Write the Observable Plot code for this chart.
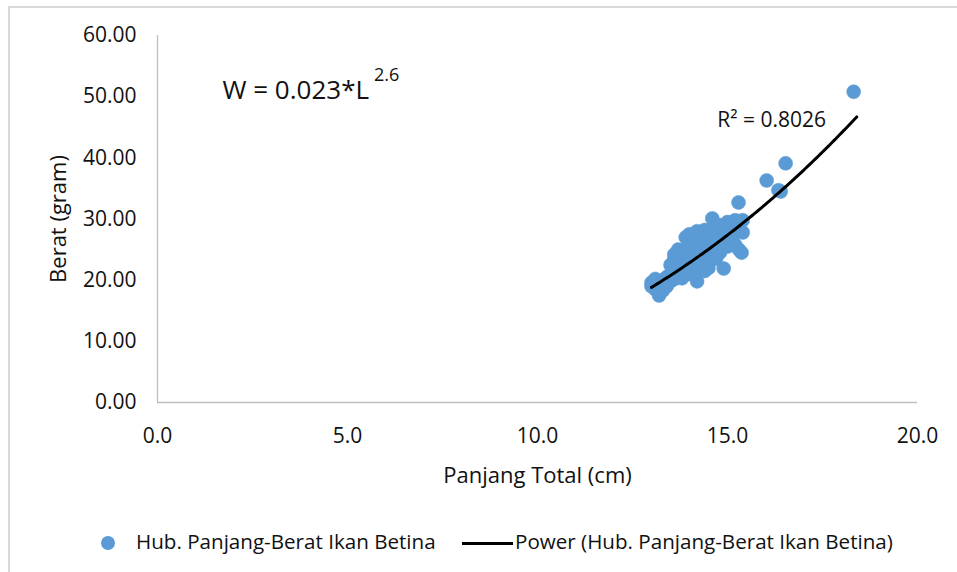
<!DOCTYPE html>
<html>
<head>
<meta charset="utf-8">
<script src="https://cdn.jsdelivr.net/npm/d3@7"></script>
<script src="https://cdn.jsdelivr.net/npm/@observablehq/plot@0.6"></script>
<style>
  body { margin: 0; background: #fff; font-family: "Open Sans", sans-serif; }
  #wrap { position: relative; width: 957px; height: 572px; overflow: hidden; }
  #frame { position: absolute; left: 8px; top: 6px; width: 960px; height: 580px; border: 2px solid #d9d9d9; box-sizing: border-box; }
  #chart { position: absolute; left: 0; top: 0; }
  #legend { position: absolute; left: 0; top: 527px; width: 957px; height: 30px; font-size: 20.6px; color: #111; white-space: nowrap; }
  #legend .dot { position: absolute; left: 101px; top: 9px; width: 14px; height: 14px; border-radius: 50%; background: #5b9bd5; }
  #legend .t1 { position: absolute; left: 136px; top: 0px; }
  #legend .ln { position: absolute; left: 462px; top: 15px; width: 51px; height: 3px; background: #000; }
  #legend .t2 { position: absolute; left: 515px; top: 0px; }
</style>
</head>
<body>
<div id="wrap">
  <div id="frame"></div>
  <div id="chart"></div>
  <div id="legend">
    <div class="dot"></div><span class="t1">Hub. Panjang-Berat Ikan Betina</span>
    <div class="ln"></div><span class="t2">Power (Hub. Panjang-Berat Ikan Betina)</span>
  </div>
</div>
<script>
// Panjang total (cm)
const panjang = [
  13.0,13.0,13.1,13.2,13.2,13.3,13.1,13.4,13.4,13.5,13.3,
  13.5,13.5,13.6,13.6,13.7,13.7,13.8,13.8,13.6,13.7,13.9,13.8,
  13.9,14.0,14.0,14.0,14.1,14.1,14.2,14.2,14.2,14.2,14.2,14.3,14.3,14.3,14.1,14.0,14.4,
  14.4,14.4,14.4,14.5,14.5,14.5,14.6,14.6,14.6,14.6,14.7,14.7,14.7,14.8,14.8,14.8,14.9,
  14.9,14.9,15.0,15.0,15.0,15.1,15.1,15.2,15.2,15.3,15.3,15.4,15.4,15.37,15.3,15.29,15.2,
  13.9,14.0,14.5,13.6,
  16.03,16.34,16.4,16.53,18.32
];
// Berat (gram)
const berat = [
  19.0,19.6,18.5,17.5,19.3,20.0,20.2,19.0,20.5,19.8,18.3,
  21.0,22.5,23.5,24.2,20.5,22.0,24.8,23.0,21.5,25.0,21.0,20.3,
  27.0,26.0,24.0,22.5,25.5,23.5,28.0,26.5,24.8,22.0,19.8,27.2,25.0,23.0,21.2,27.5,21.5,
  28.2,26.0,24.0,27.0,25.0,23.0,30.1,28.5,26.0,24.2,27.5,25.5,23.5,29.0,26.8,24.5,21.9,
  28.0,26.0,29.5,27.2,25.5,28.5,26.5,29.8,27.8,29.5,28.0,29.8,27.8,24.5,25.0,32.7,25.8,
  22.5,21.0,22.0,20.2,
  36.3,34.7,34.5,39.1,50.8
];
// Power trendline parameters W = a * L^b, over the observed length range
const fitA = 0.0230;
const fitB = 2.615;
const fitRange = [13.0, 18.4];
const xTicks = [0, 5, 10, 15, 20];
const yTicks = [0, 10, 20, 30, 40, 50, 60];

const pts = panjang.map((L, i) => ({L, W: berat[i]}));
const fit = d3.range(fitRange[0], fitRange[1] + 0.001, 0.05).map(L => ({L, W: fitA * Math.pow(L, fitB)}));

const plot = Plot.plot({
  width: 957,
  height: 500,
  marginLeft: 157,
  marginRight: 40,
  marginTop: 35,
  marginBottom: 98,
  style: {fontFamily: "Open Sans, sans-serif", fontSize: "20px", color: "#111", background: "transparent"},
  x: {domain: [0, 20]},
  y: {domain: [0, 60]},
  marks: [
    Plot.ruleX([0], {stroke: "#bfbfbf", strokeWidth: 1.3}),
    Plot.ruleY([0], {stroke: "#bfbfbf", strokeWidth: 1.3}),
    Plot.axisX({ticks: xTicks, tickFormat: d3.format(".1f"), tickSize: 0, tickPadding: 26, fontSize: 21,
      label: null}),
    Plot.axisY({ticks: yTicks, tickFormat: d3.format(".2f"), tickSize: 0, tickPadding: 21, fontSize: 21,
      label: null}),
    Plot.axisX({ticks: [], label: "Panjang Total (cm)", labelAnchor: "center", labelArrow: "none", labelOffset: 80, fontSize: 22}),
    Plot.axisY({ticks: [], label: "Berat (gram)", labelAnchor: "center", labelArrow: "none", labelOffset: 107, fontSize: 22}),
    Plot.dot(pts, {x: "L", y: "W", r: 7, fill: "#5b9bd5", stroke: "#5b9bd5", strokeWidth: 0.5}),
    Plot.line(fit, {x: "L", y: "W", stroke: "#000", strokeWidth: 3}),
    Plot.text(["R² = 0.8026"], {x: 16.16, y: 46.1, text: d => d, fontSize: 21, textAnchor: "middle", fill: "#111"}),
    Plot.text(["W = 0.023*L"], {x: 1.71, y: 51.0, text: d => d, fontSize: 26, textAnchor: "start", fill: "#111", className: "eqn"})
  ]
});
document.getElementById("chart").appendChild(plot);
// superscript exponent on the equation
const eq = plot.querySelector(".eqn text");
if (eq) {
  d3.select(eq).append("tspan").attr("dx", 5).attr("dy", "-1.0em").attr("font-size", 18).text("2.6");
}
</script>
</body>
</html>
